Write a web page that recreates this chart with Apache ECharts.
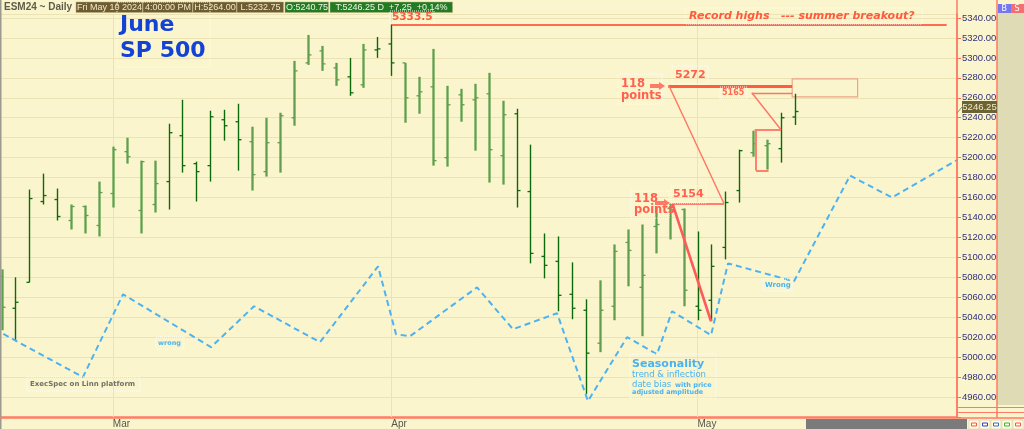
<!DOCTYPE html>
<html><head><meta charset="utf-8">
<script src="https://cdn.jsdelivr.net/npm/echarts@6/dist/echarts.min.js"></script>
<style>html,body{margin:0;padding:0;background:#faf5cc}#c{width:1024px;height:429px}</style>
</head><body><div id="c"></div>
<script>
// ---------- data ----------
const dates = [
 '2024-02-20','2024-02-21','2024-02-22','2024-02-23','2024-02-26','2024-02-27','2024-02-28','2024-02-29',
 '2024-03-01','2024-03-04','2024-03-05','2024-03-06','2024-03-07','2024-03-08','2024-03-11','2024-03-12',
 '2024-03-13','2024-03-14','2024-03-15','2024-03-18','2024-03-19','2024-03-20','2024-03-21','2024-03-22',
 '2024-03-25','2024-03-26','2024-03-27','2024-03-28',
 '2024-04-01','2024-04-02','2024-04-03','2024-04-04','2024-04-05','2024-04-08','2024-04-09','2024-04-10',
 '2024-04-11','2024-04-12','2024-04-15','2024-04-16','2024-04-17','2024-04-18','2024-04-19','2024-04-22',
 '2024-04-23','2024-04-24','2024-04-25','2024-04-26','2024-04-29','2024-04-30',
 '2024-05-01','2024-05-02','2024-05-03','2024-05-06','2024-05-07','2024-05-08','2024-05-09','2024-05-10',
 '2024-05-13','2024-05-14','2024-05-15','2024-05-16','2024-05-17','2024-05-20','2024-05-21','2024-05-22',
 '2024-05-23','2024-05-24','2024-05-28'
];
const opens  = [5081,5049,5075,5156,5158,5137,5151,5132,5164,5206,5147,5153,5176,5222,5194,5192,5238,5236,5216,5186,
                5215,5240,5295,5307,5290,5281,5273,5308,5314,5295,5262,5271,5200,5263,5258,5264,5202,5244,5166,5101,
                5096,5063,5047,5014,5051,5115,5070,5131,5149,5148,5051,5057,5110,5167,5205,5212,5209,5240.75];
const highs  = [5088,5080,5168,5184,5169,5153,5152,5176,5211,5220,5197,5197,5234,5258,5196,5247,5248,5254,5231,5240,
                5245,5297,5323,5312,5295,5300,5314,5321,5333.5,5295,5281,5309,5272,5269,5274,5285,5257,5249,5213,5124,
                5121,5095,5058,5077,5113,5128,5133,5150,5154,5149,5126,5113,5166,5208,5227,5218,5245,5264];
const lows   = [5027,5016,5075,5153,5137,5128,5124,5121,5150,5194,5124,5145,5148,5185,5156,5176,5217,5187,5167,5181,
                5185,5232,5293,5287,5272,5262,5270,5300,5282,5235,5244,5192,5191,5236,5207,5175,5173,5150,5094,5079,
                5046,5038,4963,5005,5037,5071,5021,5104,5118,5051,5037,5036,5098,5155,5201,5188,5195,5232.75];
const closes = [5050,5055,5159,5162,5141,5151,5142,5165,5208,5201,5196,5174,5225,5192,5186,5241,5232,5218,5183,5215,
                5242,5287,5303,5294,5278,5265,5308,5309,5295,5260,5266,5197,5253,5253,5260,5208,5243,5167,5104,5092,
                5062,5049,5004,5047,5106,5107,5082,5133,5150,5067,5047,5091,5155,5207,5214,5214,5240,5246.25];
// seasonality projection (x = trading-day position, y = price-equivalent)
const seasonIdx = [-0.5, 5.85, 8.73, 15.05, 18.14, 22.88, 27.05, 28.34, 29.35, 34.16, 36.74, 39.91, 42.13, 44.94,
                   47.09, 48.17, 50.97, 52.19, 56.93, 60.96, 63.97, 68.7];
const seasonVal = [5028, 4980, 5063, 5010, 5051, 5015, 5091, 5023, 5021, 5070, 5028, 5044, 4956, 5020,
                   5003, 5046, 5022, 5094, 5076, 5182, 5160, 5198];
const recordHigh = 5333.5;
const monthNames = ['Jan','Feb','Mar','Apr','May','Jun','Jul','Aug','Sep','Oct','Nov','Dec'];
// drawn annotations in data space: [x1, price1, x2, price2, weight]
const annoSegments = [
  [28.05, recordHigh, 67.9, recordHigh, 'rec'],
  [47.9, 5272, 56.8, 5272, 'heavy'],
  [47.95, 5272, 51.9, 5154, 'thin'],
  [48.2, 5154, 51.9, 5154, 'mid'],
  [48.2, 5154, 50.97, 5036, 'drop'],
  [53.9, 5265, 56.8, 5265, 'thin'],
  [53.9, 5265, 56.0, 5228, 'thin'],
  [54.1, 5228, 56.0, 5228, 'mid'],
  [54.2, 5228, 54.2, 5187, 'mid'],
  [54.2, 5187, 55.1, 5187, 'mid']
];
const targetBox = [56.8, 5279, 61.5, 5261];
// bar shading (1 = dark thin, 0 = light wide)
const barTone = [0,1,1,1,1,0,0,0,0,0,0,0,1,1,1,1,1,1,0,0,
                 0,0,0,0,0,1,0,1,1,0,0,0,0,0,0,0,0,1,1,1,
                 1,1,1,0,0,0,0,0,0,0,1,1,1,1,0,0,1,1];

// ---------- derived ----------
const monthStarts = [];
for (let i = 1; i < dates.length; i++) if (dates[i].slice(5,7) !== dates[i-1].slice(5,7)) monthStarts.push(i);
const ohlc = opens.map((o, i) => [i, o, highs[i], lows[i], closes[i]]);
const last = ohlc.length - 1;
const seasonData = seasonIdx.map((x, i) => [x, seasonVal[i]]);

const segStyle = {
  rec:   {color:'#ff6a50', width:1.8},
  heavy: {color:'#ff5e3e', width:3},
  thin:  {color:'#ff7464', width:1.4},
  mid:   {color:'#ff8070', width:2},
  drop:  {color:'#ff5a5a', width:2.6}
};

const chart = echarts.init(document.getElementById('c'), null, {renderer:'canvas'});

// ---------- graphic helpers ----------
const G = [];
function txt(x, y, text, font, fill, extra) {
  G.push(Object.assign({type:'text', x:x, y:y, z:100, silent:true,
    style:{text:text, font:font, fill:fill, align:'left', verticalAlign:'middle'}}, extra||{}));
}
function rect(x, y, w, h, style, z) {
  G.push({type:'rect', z: z==null?99:z, silent:true, shape:{x:x,y:y,width:w,height:h}, style:style});
}
function dotBox(x1, y1, x2, y2) {
  rect(x1, y1, x2-x1, y2-y1, {fill:'none', stroke:'rgba(255,255,255,0.9)', lineWidth:1, lineDash:[1,1]}, 98);
}
function line(x1,y1,x2,y2,color,w,z) {
  G.push({type:'line', z:z==null?99:z, silent:true, shape:{x1:x1,y1:y1,x2:x2,y2:y2}, style:{stroke:color, lineWidth:w}});
}
function arrow(x, y, color) {
  G.push({type:'polygon', z:100, silent:true, shape:{points:[[x,y-2],[x+9,y-2],[x+9,y-4],[x+15,y],[x+9,y+4],[x+9,y+2],[x,y+2]]}, style:{fill:color}});
}

// frame pieces
rect(0, 0, 1.5, 429, {fill:'#9a9a90'}, 90);
rect(997, 13, 27, 392, {fill:'#dfdbb5'}, 90);
line(957, 0, 957, 418, '#ff7a66', 1.5, 91);
line(997, 0, 997, 418, '#ff7a66', 1.5, 91);
line(957, 407.5, 1024, 407.5, '#ff7a66', 1, 91);
line(957, 412.5, 1024, 412.5, '#ff7a66', 1, 91);
line(0, 418, 1024, 418, '#ff7a66', 1.5, 91);
rect(806, 419, 161, 10, {fill:'#7b7b7b'}, 90);
const icoCols = ['#ff5050','#3a3ad0','#3a6ad0','#40b040','#ff5050'];
icoCols.forEach((c, k) => {
  rect(969 + k*11, 420, 10, 9, {fill:'#fffbe0', stroke:'#c8c4a0', lineWidth:0.5}, 92);
  rect(971.5 + k*11, 423, 5, 3, {fill:'none', stroke:c, lineWidth:1}, 93);
});
// B / S buttons
rect(998, 4, 13, 9, {fill:'#7676f0'}, 95);
rect(1011, 4, 13, 9, {fill:'#f27070'}, 95);
txt(1001.5, 8.5, 'B', '8px "DejaVu Sans"', '#ffffff');
txt(1014.5, 8.5, 'S', '8px "DejaVu Sans"', '#ffffff');

// header strip
txt(4, 7, 'ESM24 ~ Daily', 'bold 10px "Liberation Sans"', '#5d5d4a');
const hdrFont = '9px "Liberation Sans"';
const fmt = v => v.toFixed(2);
const d = new Date(dates[last] + 'T12:00:00');
const dayName = ['Sun','Mon','Tue','Wed','Thu','Fri','Sat'][d.getDay()];
const hdrBoxes = [
  [76, 143, dayName + ' ' + monthNames[d.getMonth()] + ' ' + d.getDate() + ' ' + d.getFullYear(), '#6d5c31', '#f2e9c8'],
  [143, 193, '4:00:00 PM', '#6d5c31', '#f2e9c8'],
  [193, 237, 'H:' + fmt(highs[last]), '#6d5c31', '#f2e9c8'],
  [237, 284, 'L:' + fmt(lows[last]), '#6d5c31', '#f2e9c8'],
  [285, 329, 'O:' + fmt(opens[last]), '#237c23', '#eef8e6'],
  [330, 453, 'T:' + fmt(closes[last]) + ' D  +7.25  +0.14%', '#237c23', '#eef8e6']
];
hdrBoxes.forEach(b => {
  rect(b[0], 2, b[1]-b[0]-0.5, 10.5, {fill:b[3], stroke:'#b9ad80', lineWidth:0.5}, 95);
  G.push({type:'text', z:100, silent:true, x:(b[0]+b[1])/2, y:7.4,
    style:{text:b[2], font:hdrFont, fill:b[4], align:'center', verticalAlign:'middle'}});
});

// title
dotBox(117, 2, 210, 67);
txt(120, 25, 'June', 'bold 22px "DejaVu Sans"', '#1442d4');
txt(120, 51, 'SP 500', 'bold 22px "DejaVu Sans"', '#1442d4');

// red annotations
const red = '#ff5a3c';
dotBox(390, 11, 434, 23);
txt(392, 17, recordHigh.toFixed(1), 'bold 10.5px "DejaVu Sans"', red);
dotBox(685, 8, 922, 24);
txt(689, 16, 'Record highs   --- summer breakout?', 'italic bold 11px "DejaVu Sans"', red);
dotBox(618, 74, 662, 104);
txt(621, 84, '118', 'bold 11.5px "DejaVu Sans"', '#ff6050');
txt(621, 96, 'points', 'bold 11.5px "DejaVu Sans"', '#ff6050');
arrow(650, 86, '#ff7a66');
dotBox(672, 66, 708, 84);
txt(675, 75, '5272', 'bold 11px "DejaVu Sans"', '#ff6050');
dotBox(720, 87, 747, 99);
txt(722, 93, '5165', 'bold 8px "DejaVu Sans"', '#ff6a50');
dotBox(631, 191, 669, 218);
txt(634, 199, '118', 'bold 11.5px "DejaVu Sans"', '#ff6050');
txt(634, 210.5, 'points', 'bold 11.5px "DejaVu Sans"', '#ff6050');
arrow(655, 203, '#ff7a66');
dotBox(671, 186, 706, 203);
txt(673, 194, '5154', 'bold 11px "DejaVu Sans"', '#ff6050');

// blue / grey notes
const blue = '#4ab2f2';
dotBox(156, 337, 184, 349);
txt(158, 343, 'wrong', 'bold 6.5px "DejaVu Sans"', blue);
dotBox(763, 279, 792, 291);
txt(765, 285, 'Wrong', 'bold 7px "DejaVu Sans"', blue);
dotBox(27, 377, 140, 391);
txt(30, 384, 'ExecSpec on Linn platform', 'bold 7px "DejaVu Sans"', '#707068');
dotBox(630, 354, 716, 398);
txt(632, 364, 'Seasonality', 'bold 11px "DejaVu Sans"', blue);
txt(632, 375, 'trend & inflection', '8.5px "DejaVu Sans"', blue);
txt(632, 384.5, 'date bias', '8.5px "DejaVu Sans"', blue);
txt(675, 385, 'with price', 'bold 6.5px "DejaVu Sans"', blue);
txt(632, 392.5, 'adjusted amplitude', 'bold 6.5px "DejaVu Sans"', blue);

// last price tag
line(957, 113, 962, 107, '#8a8a70', 1, 96);
rect(962, 101, 35, 12, {fill:'#6c6232'}, 96);
G.push({type:'text', z:100, silent:true, x:979.5, y:107.5,
  style:{text:fmt(closes[last]), font:'9.5px "Liberation Sans"', fill:'#f3eccb', align:'center', verticalAlign:'middle'}});

// ---------- option ----------
const option = {
  backgroundColor: '#faf5cc',
  animation: false,
  grid: {left: 0, right: 67, top: 14, bottom: 11, containLabel: false},
  xAxis: {type:'value', min:-0.108, max:68.64,
     axisLine:{show:true, onZero:false, lineStyle:{color:'#ff7a66', width:1.5}},
     axisTick:{show:false},
     splitLine:{show:false},
     axisLabel:{show:true, customValues: monthStarts, margin:2, align:'left',
       color:'#56564a', fontSize:10, fontFamily:'"Liberation Sans"',
       formatter:(v) => monthNames[parseInt(dates[Math.round(v)].slice(5,7),10)-1]}},
  yAxis: {type:'value', position:'right', min:4940, max:5344, interval:20,
    axisLine:{show:true, onZero:false, lineStyle:{color:'#ff7a66', width:1.5}},
    axisTick:{show:true, length:4, lineStyle:{color:'#ff6a55'}},
    axisLabel:{color:'#30307c', fontSize:9.5, fontFamily:'"Liberation Sans"', margin:5,
      verticalAlign:'middle', padding:[0,0,5,0], showMaxLabel:false,
      formatter:(v) => (v === 4940 || v % 20 !== 0) ? '' : v.toFixed(2)},
    splitLine:{show:true, lineStyle:{color:'#ebe3b6', width:1}}
  },
  series: [
    {type:'line', data:[], z:1, silent:true,
     markLine:{silent:true, z:1, symbol:['none','none'], label:{show:false},
       lineStyle:{color:'#ebe3b6', width:1, type:'solid'},
       data: monthStarts.map(i => ({xAxis:i}))}},
    {type:'custom', z:3, data: ohlc, encode:{x:0, y:[1,2,3,4]},
     renderItem:(params, api) => {
       const i = api.value(0);
       const o = api.coord([i, api.value(1)]);
       const h = api.coord([i, api.value(2)]);
       const l = api.coord([i, api.value(3)]);
       const c = api.coord([i, api.value(4)]);
       const dark = barTone[params.dataIndex] === 1;
       const col = dark ? '#0c6a0c' : '#5f9f4f';
       const w = dark ? 1.4 : 2.3;
       const x = Math.round(h[0]) + 0.5;
       return {type:'group', children:[
         {type:'line', shape:{x1:x, y1:h[1], x2:x, y2:l[1]}, style:{stroke:col, lineWidth:w}},
         {type:'line', shape:{x1:x-3, y1:o[1], x2:x, y2:o[1]}, style:{stroke:col, lineWidth:1.3}},
         {type:'line', shape:{x1:x, y1:c[1], x2:x+3, y2:c[1]}, style:{stroke:col, lineWidth:1.3}}
       ]};
     }},
    {type:'line', data: seasonData, symbol:'none', z:4, silent:true,
     lineStyle:{color:'#4db2f2', width:2, type:[6,4]}},
    {type:'line', data:[], z:5, silent:true,
     markLine:{silent:true, symbol:['none','none'], label:{show:false}, animation:false,
       data: annoSegments.map(s => [
         {coord:[s[0], s[1]], lineStyle:{color:segStyle[s[4]].color, width:segStyle[s[4]].width, type:'solid'}},
         {coord:[s[2], s[3]]}
       ])},
     markArea:{silent:true, label:{show:false},
       itemStyle:{color:'rgba(0,0,0,0)', borderColor:'#eea48c', borderWidth:1.2},
       data:[[{coord:[targetBox[0], targetBox[1]]}, {coord:[targetBox[2], targetBox[3]]}]]}}
  ],
  graphic: G
};
chart.setOption(option);
</script>
</body></html>
